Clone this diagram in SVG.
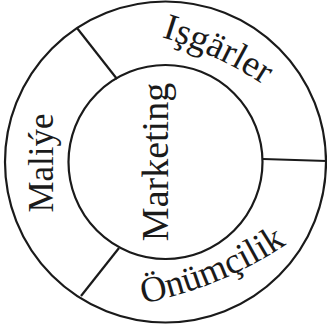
<svg xmlns="http://www.w3.org/2000/svg" width="327" height="331" viewBox="0 0 327 331">
<style>
.ring{fill:none;stroke:#1a1a1a;stroke-width:2.2}
.div{stroke:#1a1a1a;stroke-width:2.2}
.lbl{font-family:"Liberation Serif","Times New Roman",serif;fill:#1a1a1a}
</style>
<defs>
<path id="arcTop" d="M80.1,21.4 A400,400 0 0 1 328.0,137.1"/>
<path id="arcBot" d="M99.9,309.7 A400,400 0 0 0 321.6,218.1"/>
</defs>
<rect width="327" height="331" fill="#fff"/>
<g id="outer"><circle class="ring" cx="165.5" cy="162" r="160.5"/></g>
<g id="connectors">
<line class="div" x1="77" y1="28" x2="117" y2="79"/>
<line class="div" x1="263" y1="159" x2="327" y2="161"/>
<line class="div" x1="119" y1="248" x2="81" y2="296"/>
</g>
<g id="marketing">
<circle class="ring" cx="165.5" cy="162" r="97"/>
<text class="lbl" font-size="38" text-anchor="middle" transform="translate(168,162) rotate(-90)">Marketing</text>
</g>
<g id="maliye">
<text class="lbl" font-size="35" text-anchor="middle" transform="translate(52.5,163) rotate(-90)">Maliýe</text>
</g>
<g id="isgarler">
<text class="lbl" font-size="37" text-anchor="middle"><textPath href="#arcTop" startOffset="50%">Işgärler</textPath></text>
</g>
<g id="onumcilik">
<text class="lbl" font-size="36.5" text-anchor="middle"><textPath href="#arcBot" startOffset="50%">Önümçilik</textPath></text>
</g>
</svg>
